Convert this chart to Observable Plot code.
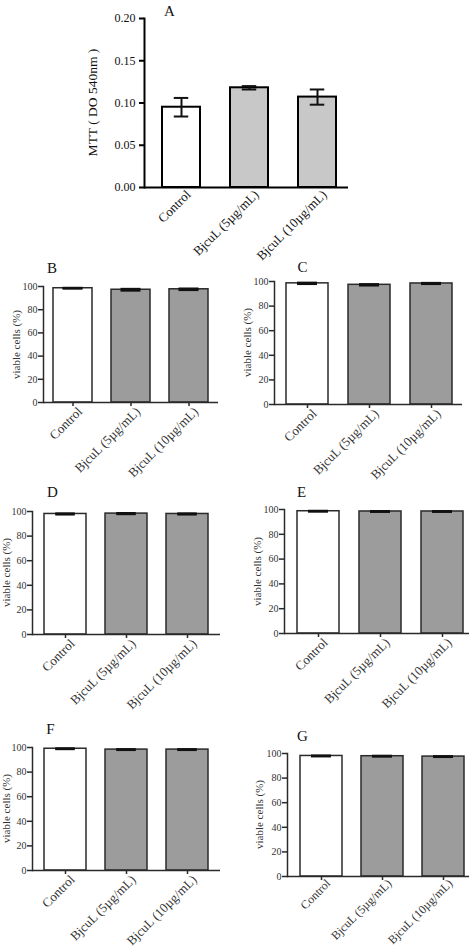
<!DOCTYPE html>
<html>
<head>
<meta charset="utf-8">
<script src="https://cdn.jsdelivr.net/npm/d3@7"></script>
<script src="https://cdn.jsdelivr.net/npm/@observablehq/plot@0.6"></script>
<style>
  body { margin: 0; background: #fff; }
  #fig { position: relative; width: 469px; height: 950px; overflow: hidden; background: #fff; }
  #fig > svg { position: absolute; }
</style>
</head>
<body>
<div id="fig"></div>
<script>
// Treatment groups shared by every panel
const groups = ["Control", "BjcuL (5µg/mL)", "BjcuL (10µg/mL)"];

// Panel A: MTT assay, optical density at 540 nm (mean ± SEM)
const mttMean = [0.095, 0.118, 0.107];
const mttSem = [0.011, 0.002, 0.009];
const mttTicks = [0, 0.05, 0.10, 0.15, 0.20];

// Panels B–G: viable cells (%) (mean ± SEM)
const viableB = [98.5, 97.2, 97.6];
const semB = [0.3, 0.7, 0.6];
const viableC = [98.5, 97.3, 98.4];
const semC = [0.5, 0.5, 0.4];
const viableD = [98.0, 98.3, 98.0];
const semD = [0.4, 0.4, 0.4];
const viableE = [98.6, 98.4, 98.4];
const semE = [0.3, 0.3, 0.3];
const viableF = [99.0, 98.3, 98.3];
const semF = [0.3, 0.3, 0.3];
const viableG = [98.0, 97.8, 97.5];
const semG = [0.3, 0.3, 0.3];
const viableTicks = [0, 20, 40, 60, 80, 100];

const FONT = "'Liberation Serif', 'Times New Roman', serif";

// Builds one bar chart with error bars; box/frame/bars are page coordinates.
function panel(cfg) {
  const rows = groups.map((g, i) => ({group: g, mean: cfg.mean[i], sem: cfg.sem[i], treated: i > 0}));
  const caps = rows.flatMap(d => [{group: d.group, v: d.mean - d.sem}, {group: d.group, v: d.mean + d.sem}]);
  const n = groups.length;
  const [b0, b1] = cfg.bars;
  const step = (b1 - b0 - cfg.bw) / (n - 1);
  const [fx0, fx1, fy0, fy1] = cfg.frame;
  const inset = (cfg.bw - cfg.capW) / 2;
  const svg = Plot.plot({
    width: cfg.w,
    height: cfg.h,
    marginLeft: fx0 - cfg.left,
    marginRight: cfg.left + cfg.w - fx1,
    marginTop: fy0 - cfg.top,
    marginBottom: cfg.top + cfg.h - fy1,
    style: {fontFamily: FONT, background: "transparent", overflow: "visible"},
    x: {type: "band", domain: groups, range: [b0 - cfg.left, b1 - cfg.left],
        paddingInner: 1 - cfg.bw / step, paddingOuter: 0, axis: null},
    y: {domain: cfg.domain, axis: null},
    marks: [
      Plot.barY(rows, {x: "group", y: "mean", fill: d => d.treated ? cfg.gray : "white",
                       stroke: cfg.ink, strokeWidth: cfg.sw}),
      Plot.ruleX(rows, {x: "group", y1: d => d.mean - d.sem, y2: d => d.mean + d.sem,
                        stroke: "#111", strokeWidth: cfg.errW}),
      Plot.tickY(caps, {x: "group", y: "v", insetLeft: inset, insetRight: inset,
                        stroke: "#111", strokeWidth: cfg.errW}),
      Plot.frame({anchor: "left", stroke: cfg.ink, strokeWidth: cfg.sw}),
      Plot.ruleY([0], {stroke: cfg.ink, strokeWidth: cfg.sw}),
      Plot.axisY({ticks: cfg.ticks, tickFormat: cfg.tickFormat, tickSize: cfg.yTickSize,
                  tickPadding: cfg.yTickPad, fontSize: cfg.tickFont, label: null,
                  stroke: cfg.ink, strokeWidth: cfg.sw, fill: cfg.textInk}),
      // category ticks below the baseline
      Plot.axisX({tickSize: cfg.xTickSize, tickFormat: () => "", label: null,
                  stroke: cfg.ink, strokeWidth: cfg.sw}),
      // slanted category names
      Plot.axisX({tickSize: 0, tickRotate: -45, tickPadding: cfg.xTickPad, dx: cfg.xLabelDx,
                  fontSize: cfg.catFont, label: null, fill: cfg.textInk}),
      Plot.text([cfg.letter], {frameAnchor: "top-left", dx: cfg.letterAt[0] - fx0, dy: cfg.letterAt[1] - fy0,
                               fontSize: 15, textAnchor: "middle", lineAnchor: "middle", fill: "#111"}),
      Plot.text([cfg.yLabel], {frameAnchor: "top-left", dx: cfg.yLabelAt[0] - fx0, dy: cfg.yLabelAt[1] - fy0,
                               rotate: -90, fontSize: cfg.yLabelFont, textAnchor: "middle",
                               lineAnchor: "middle", fill: cfg.textInk})
    ]
  });
  svg.style.left = cfg.left + "px";
  svg.style.top = cfg.top + "px";
  document.getElementById("fig").appendChild(svg);
}

const fmt2 = d3.format(".2f");
const viableStyle = {
  domain: [0, 100], ticks: viableTicks, tickFormat: d => d, gray: "#9c9c9c", ink: "#2a2a2a",
  textInk: "#333", sw: 1.5, errW: 2.2, capW: 20, yTickSize: 5, yTickPad: 1, tickFont: 10,
  xTickSize: 4, xTickPad: 7, xLabelDx: 7, catFont: 13, yLabel: "viable cells (%)", yLabelFont: 11
};

panel({
  letter: "A", mean: mttMean, sem: mttSem, domain: [0, 0.2], ticks: mttTicks, tickFormat: fmt2,
  gray: "#c8c8c8", ink: "#000", textInk: "#111", sw: 2, errW: 2, capW: 15,
  yTickSize: 5, yTickPad: 4, tickFont: 12, xTickSize: 0, xTickPad: 5, xLabelDx: 7, catFont: 13,
  yLabel: "MTT ( DO 540nm )", yLabelFont: 13.5,
  left: 60, top: 0, w: 295, h: 250, frame: [144, 348, 18, 187],
  bars: [161, 337], bw: 38.5, letterAt: [169, 10.5], yLabelAt: [92, 102]
});
panel({...viableStyle, letter: "B", mean: viableB, sem: semB,
  left: 0, top: 250, w: 232, h: 230, frame: [43, 218, 286, 402],
  bars: [53, 208], bw: 39, letterAt: [51.5, 267.5], yLabelAt: [16, 344]});
panel({...viableStyle, letter: "C", mean: viableC, sem: semC,
  left: 236, top: 250, w: 233, h: 230, frame: [274, 462, 281, 404],
  bars: [286, 452], bw: 42, letterAt: [302, 267], yLabelAt: [247, 342]});
panel({...viableStyle, letter: "D", mean: viableD, sem: semD,
  left: 0, top: 480, w: 232, h: 230, frame: [32, 220, 511, 634],
  bars: [43, 209], bw: 42.5, letterAt: [52, 491.5], yLabelAt: [6, 572]});
panel({...viableStyle, letter: "E", mean: viableE, sem: semE,
  left: 236, top: 480, w: 233, h: 230, frame: [284, 469, 509, 633],
  bars: [297, 463], bw: 42, letterAt: [301, 492], yLabelAt: [257, 571]});
panel({...viableStyle, letter: "F", mean: viableF, sem: semF,
  left: 0, top: 710, w: 232, h: 240, frame: [32, 220, 747, 870],
  bars: [43, 209], bw: 42.5, letterAt: [50, 729], yLabelAt: [6, 808]});
panel({...viableStyle, letter: "G", mean: viableG, sem: semG, xTickPad: 5, catFont: 12,
  left: 236, top: 710, w: 233, h: 240, frame: [287, 469, 753, 876],
  bars: [299, 464], bw: 42, letterAt: [302, 736], yLabelAt: [259, 814]});
</script>
</body>
</html>
